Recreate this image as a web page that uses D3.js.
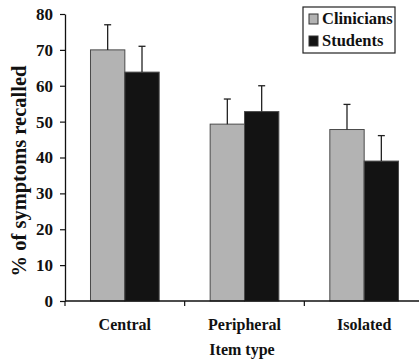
<!DOCTYPE html>
<html>
<head>
<meta charset="utf-8">
<script src="https://cdn.jsdelivr.net/npm/d3@7"></script>
</head>
<body style="margin:0;background:#fff">
<div id="chart"></div>
<script>
const categories = ["Central", "Peripheral", "Isolated"]
const seriesNames = ["Clinicians", "Students"]
const clinicians = [70, 49.3, 47.8]
const students = [63.8, 52.8, 39]
const cliniciansErr = [7, 7, 7]
const studentsErr = [7.2, 7.2, 7.1]
const yTicks = [0, 10, 20, 30, 40, 50, 60, 70, 80]

const colors = { Clinicians: "#b3b3b3", Students: "#131313" }
const serif = "\"Liberation Serif\""

const dimensions = {
  width: 419,
  height: 360,
  margin: { top: 14, right: -5, bottom: 59, left: 65 }
}
dimensions.boundedWidth = dimensions.width - dimensions.margin.left - dimensions.margin.right
dimensions.boundedHeight = dimensions.height - dimensions.margin.top - dimensions.margin.bottom

const rows = categories.map((c, i) => ({
  category: c,
  values: [
    { series: "Clinicians", value: clinicians[i], err: cliniciansErr[i] },
    { series: "Students", value: students[i], err: studentsErr[i] }
  ]
}))

const wrapper = d3.select("#chart")
  .append("svg")
  .attr("width", dimensions.width)
  .attr("height", dimensions.height)

const bounds = wrapper.append("g")
  .attr("transform", `translate(${dimensions.margin.left},${dimensions.margin.top})`)

const x0 = d3.scaleBand()
  .domain(categories)
  .range([0, dimensions.boundedWidth])
  .padding(0)

const bw = x0.bandwidth()
const x1 = d3.scaleBand()
  .domain(seriesNames)
  .range([bw * 0.213, bw * 0.787])
  .padding(0)

const yScale = d3.scaleLinear()
  .domain([0, 80])
  .range([dimensions.boundedHeight, 0])

// bars
const groups = bounds.selectAll(".group")
  .data(rows)
  .join("g")
  .attr("transform", d => `translate(${x0(d.category)},0)`)

groups.selectAll("rect")
  .data(d => d.values)
  .join("rect")
  .attr("x", d => x1(d.series))
  .attr("y", d => yScale(d.value))
  .attr("width", x1.bandwidth())
  .attr("height", d => dimensions.boundedHeight - yScale(d.value))
  .attr("fill", d => colors[d.series])
  .attr("stroke", "#4a4a4a")
  .attr("stroke-width", 1)

// error bars (upper only)
const errs = groups.selectAll(".err")
  .data(d => d.values)
  .join("g")
  .attr("class", "err")
  .attr("stroke", "#222")
  .attr("stroke-width", 1.3)

errs.append("line")
  .attr("x1", d => x1(d.series) + x1.bandwidth() / 2)
  .attr("x2", d => x1(d.series) + x1.bandwidth() / 2)
  .attr("y1", d => yScale(d.value))
  .attr("y2", d => yScale(d.value + d.err))

errs.append("line")
  .attr("x1", d => x1(d.series) + x1.bandwidth() / 2 - 3.5)
  .attr("x2", d => x1(d.series) + x1.bandwidth() / 2 + 3.5)
  .attr("y1", d => yScale(d.value + d.err))
  .attr("y2", d => yScale(d.value + d.err))

// y axis
const yAxis = bounds.append("g")
  .call(d3.axisLeft(yScale).tickValues(yTicks).tickSize(5).tickPadding(7).tickSizeOuter(0))
yAxis.select(".domain").attr("stroke", "#111").attr("stroke-width", 1.3)
yAxis.selectAll(".tick line").attr("stroke", "#111").attr("stroke-width", 1.2)
yAxis.selectAll("text")
  .style("font-family", serif)
  .style("font-weight", "bold")
  .style("font-size", "17px")
  .attr("fill", "#111")

// x axis: ticks at category boundaries
const xAxisG = bounds.append("g")
  .attr("transform", `translate(0,${dimensions.boundedHeight})`)
xAxisG.append("line")
  .attr("x1", 0).attr("x2", dimensions.boundedWidth)
  .attr("stroke", "#111").attr("stroke-width", 1.3)
xAxisG.selectAll(".bt")
  .data(categories)
  .join("line")
  .attr("x1", d => x0(d)).attr("x2", d => x0(d))
  .attr("y1", 0).attr("y2", 5)
  .attr("stroke", "#111").attr("stroke-width", 1.2)
xAxisG.selectAll(".lbl")
  .data(categories)
  .join("text")
  .attr("x", d => x0(d) + bw / 2)
  .attr("y", 29)
  .attr("text-anchor", "middle")
  .style("font-family", serif)
  .style("font-weight", "bold")
  .style("font-size", "16px")
  .attr("fill", "#111")
  .text(d => d)

// axis titles
wrapper.append("text")
  .attr("x", 242)
  .attr("y", 355)
  .attr("text-anchor", "middle")
  .style("font-family", serif)
  .style("font-weight", "bold")
  .style("font-size", "16px")
  .attr("fill", "#111")
  .text("Item type")

wrapper.append("text")
  .attr("transform", "translate(26,171) rotate(-90)")
  .attr("text-anchor", "middle")
  .style("font-family", serif)
  .style("font-weight", "bold")
  .style("font-size", "20.5px")
  .attr("fill", "#111")
  .text("% of symptoms recalled")

// legend
const legend = wrapper.append("g").attr("transform", "translate(303,7)")
legend.append("rect")
  .attr("width", 92).attr("height", 46)
  .attr("fill", "#fff").attr("stroke", "#222").attr("stroke-width", 1.2)
const li = legend.selectAll(".li")
  .data(seriesNames)
  .join("g")
  .attr("transform", (d, i) => `translate(6,${7 + i * 22})`)
li.append("rect")
  .attr("width", 9).attr("height", 10)
  .attr("fill", d => colors[d])
  .attr("stroke", "#333").attr("stroke-width", 1)
li.append("text")
  .attr("x", 13).attr("y", 10)
  .style("font-family", serif)
  .style("font-weight", "bold")
  .style("font-size", "16.5px")
  .attr("fill", "#111")
  .text(d => d)
</script>
</body>
</html>
